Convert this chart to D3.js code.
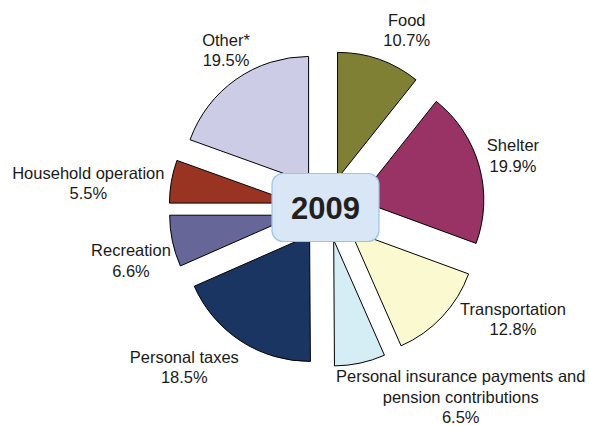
<!doctype html>
<html>
<head>
    <style>
        body { margin: 0; background: #fff; }
        text { font-family: "Liberation Sans", Arial, sans-serif; }
    </style>
    <script src="https://d3js.org/d3.v7.min.js"></script>
</head>
<body>
<svg width="589" height="425" id="chart"></svg>
<script>
    // data
    var categories = ["Food", "Shelter", "Transportation", "Personal insurance payments and pension contributions",
                      "Personal taxes", "Recreation", "Household operation", "Other*"];
    var values = [10.7, 19.9, 12.8, 6.5, 18.5, 6.6, 5.5, 19.5];
    var labelLines = [["Food"], ["Shelter"], ["Transportation"],
                      ["Personal insurance payments and", "pension contributions"],
                      ["Personal taxes"], ["Recreation"], ["Household operation"], ["Other*"]];
    var yearLabel = "2009";

    var colors = ["#808035", "#993366", "#fbf9d0", "#d5edf4", "#1b3563", "#666699", "#993322", "#cccce6"];

    var svg = d3.select("#chart"),
        cx = 327, cy = 208.6,
        radius = 126,
        explode = 32;

    var pie = d3.pie().sort(null).value(function(d) { return d; });
    var arc = d3.arc().innerRadius(0).outerRadius(radius);
    var labelArc = d3.arc().innerRadius(190).outerRadius(190);

    // label tweaks, relative to a ring at r=190
    var nudge = [[17, 1], [3, -1.5], [47.5, -19.6], [94, 2.2], [-39.4, -0.8], [-10.1, 13], [-51.5, 7.4], [8.3, -3.2]];

    var arcs = pie(values);

    var g = svg.append("g")
        .attr("transform", "translate(" + cx + "," + cy + ")");

    g.selectAll(".slice")
        .data(arcs)
        .enter().append("path")
        .attr("class", "slice")
        .attr("d", arc)
        .attr("fill", function(d, i) { return colors[i]; })
        .attr("stroke", "#000")
        .attr("stroke-width", 1)
        .attr("transform", function(d) {
            var a = (d.startAngle + d.endAngle) / 2;
            return "translate(" + (Math.sin(a) * explode) + "," + (-Math.cos(a) * explode) + ")";
        });

    var lh = 20.5;
    var labels = g.selectAll(".lbl")
        .data(arcs)
        .enter().append("text")
        .attr("class", "lbl")
        .attr("text-anchor", "middle")
        .attr("font-size", "16.5px")
        .attr("fill", "#1a1a1a")
        .attr("transform", function(d, i) {
            var c = labelArc.centroid(d);
            return "translate(" + (c[0] + nudge[i][0]) + "," + (c[1] + nudge[i][1]) + ")";
        });

    labels.each(function(d, i) {
        var lines = labelLines[i].concat([values[i].toFixed(1) + "%"]);
        var n = lines.length;
        d3.select(this).selectAll("tspan")
            .data(lines)
            .enter().append("tspan")
            .attr("x", 0)
            .attr("y", function(t, j) { return (j - (n - 1) / 2) * lh + 5.9; })
            .text(function(t) { return t; });
    });

    // centre box
    svg.append("rect")
        .attr("x", 272)
        .attr("y", 173.5)
        .attr("width", 107)
        .attr("height", 68)
        .attr("rx", 11)
        .attr("fill", "#d8e6f5")
        .attr("stroke", "#9dc3e6")
        .attr("stroke-width", 1.2);

    svg.append("text")
        .attr("x", 325.5)
        .attr("y", 218.5)
        .attr("text-anchor", "middle")
        .attr("font-size", "31px")
        .attr("font-weight", "bold")
        .attr("fill", "#231f20")
        .text(yearLabel);
</script>
</body>
</html>
